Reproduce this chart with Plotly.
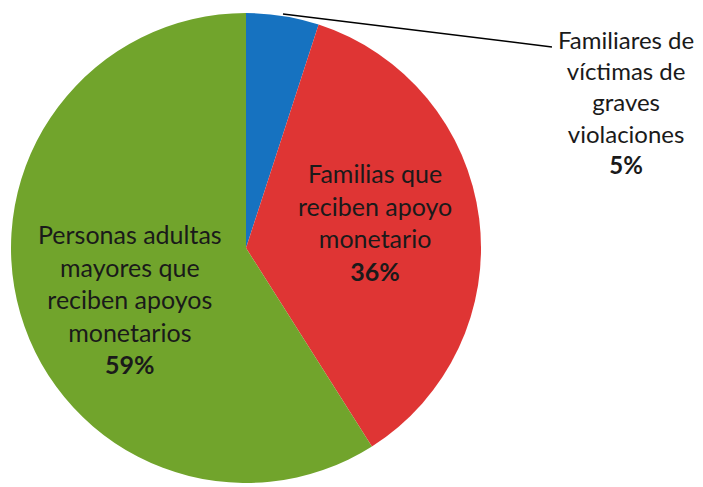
import plotly.graph_objects as go

labels = ["Familiares de víctimas de graves violaciones",
          "Familias que reciben apoyo monetario",
          "Personas adultas mayores que reciben apoyos monetarios"]
values = [5, 36, 59]
slice_text = ["Familiares de<br>víctimas de<br>graves<br>violaciones<br><b>5%</b>",
              "Familias que<br>reciben apoyo<br>monetario<br><b>36%</b>",
              "Personas adultas<br>mayores que<br>reciben apoyos<br>monetarios<br><b>59%</b>"]
colors = ["#1672c0", "#df3534", "#71a42c"]

W, H = 703, 487
OFF = 8  # page body margin


def px(x):
    return (x - OFF) / W


def py(y):
    return 1 - (y - OFF) / H


cx, cy, r = 246, 248, 235

fig = go.Figure()
fig.add_trace(go.Pie(
    labels=labels, values=values,
    sort=False, direction="clockwise", rotation=0,
    marker=dict(colors=colors, line=dict(width=0)),
    textinfo="none",
    hoverinfo="label+percent",
    domain=dict(x=[px(cx - r), px(cx + r)], y=[py(cy + r), py(cy - r)]),
    showlegend=False,
))

# leader line for the small slice
fig.add_shape(type="line", xref="paper", yref="paper",
              x0=px(283), y0=py(14), x1=px(552), y1=py(47),
              line=dict(color="black", width=1.5))

label_pos = [(626, 102), (375, 222), (130, 299)]
label_size = [24, 25, 25]
for txt, (lx, ly), fs in zip(slice_text, label_pos, label_size):
    fig.add_annotation(x=px(lx), y=py(ly), xref="paper", yref="paper",
                       xanchor="center", yanchor="middle",
                       text=txt, showarrow=False, align="center",
                       font=dict(family="Lato", size=fs, color="#1a1a1a"))

fig.update_layout(width=W, height=H, margin=dict(l=0, r=0, t=0, b=0),
                  paper_bgcolor="white", plot_bgcolor="white")
fig.write_html("out.html")
